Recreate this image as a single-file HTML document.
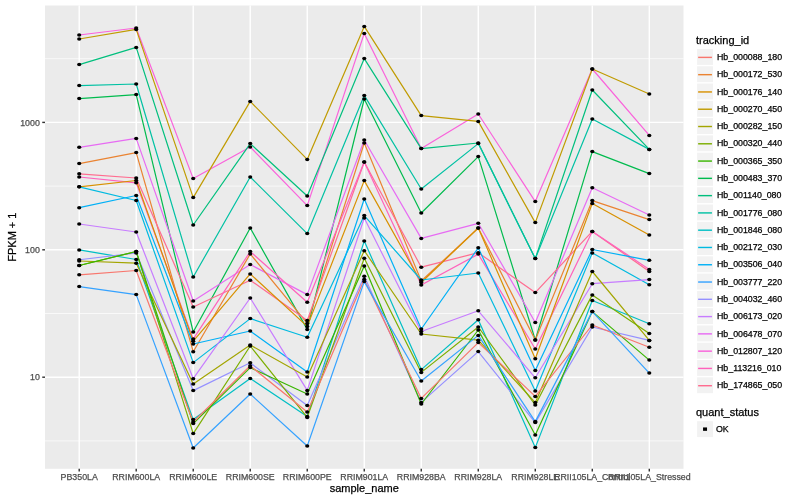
<!DOCTYPE html><html><head><meta charset="utf-8"><style>html,body{margin:0;padding:0;background:#fff;}svg{display:block;will-change:transform;}text{font-family:"Liberation Sans",sans-serif;stroke:currentColor;stroke-width:0.25px;}</style></head><body>
<svg width="800" height="500" viewBox="0 0 800 500">
<rect x="0" y="0" width="800" height="500" fill="#FFFFFF"/>
<rect x="45.0" y="5.5" width="638.50" height="463.30" fill="#EBEBEB"/>
<line x1="45.0" x2="683.5" y1="440.90" y2="440.90" stroke="#FFFFFF" stroke-width="0.71"/>
<line x1="45.0" x2="683.5" y1="313.50" y2="313.50" stroke="#FFFFFF" stroke-width="0.71"/>
<line x1="45.0" x2="683.5" y1="186.10" y2="186.10" stroke="#FFFFFF" stroke-width="0.71"/>
<line x1="45.0" x2="683.5" y1="58.70" y2="58.70" stroke="#FFFFFF" stroke-width="0.71"/>
<line x1="45.0" x2="683.5" y1="377.20" y2="377.20" stroke="#FFFFFF" stroke-width="1.42"/>
<line x1="45.0" x2="683.5" y1="249.80" y2="249.80" stroke="#FFFFFF" stroke-width="1.42"/>
<line x1="45.0" x2="683.5" y1="122.40" y2="122.40" stroke="#FFFFFF" stroke-width="1.42"/>
<line x1="79.21" x2="79.21" y1="5.5" y2="468.8" stroke="#FFFFFF" stroke-width="1.42"/>
<line x1="136.21" x2="136.21" y1="5.5" y2="468.8" stroke="#FFFFFF" stroke-width="1.42"/>
<line x1="193.22" x2="193.22" y1="5.5" y2="468.8" stroke="#FFFFFF" stroke-width="1.42"/>
<line x1="250.23" x2="250.23" y1="5.5" y2="468.8" stroke="#FFFFFF" stroke-width="1.42"/>
<line x1="307.24" x2="307.24" y1="5.5" y2="468.8" stroke="#FFFFFF" stroke-width="1.42"/>
<line x1="364.25" x2="364.25" y1="5.5" y2="468.8" stroke="#FFFFFF" stroke-width="1.42"/>
<line x1="421.26" x2="421.26" y1="5.5" y2="468.8" stroke="#FFFFFF" stroke-width="1.42"/>
<line x1="478.27" x2="478.27" y1="5.5" y2="468.8" stroke="#FFFFFF" stroke-width="1.42"/>
<line x1="535.28" x2="535.28" y1="5.5" y2="468.8" stroke="#FFFFFF" stroke-width="1.42"/>
<line x1="592.29" x2="592.29" y1="5.5" y2="468.8" stroke="#FFFFFF" stroke-width="1.42"/>
<line x1="649.29" x2="649.29" y1="5.5" y2="468.8" stroke="#FFFFFF" stroke-width="1.42"/>
<polyline points="79.21,35.00 136.21,28.00 193.22,178.60 250.23,147.00 307.24,205.60 364.25,33.40 421.26,148.60 478.27,114.00 535.28,201.60 592.29,69.00 649.29,135.40" fill="none" stroke="#FA62DB" stroke-width="1.2" stroke-linejoin="round" stroke-linecap="butt"/>
<polyline points="79.21,39.00 136.21,29.40 193.22,197.60 250.23,101.40 307.24,159.40 364.25,26.40 421.26,115.60 478.27,121.40 535.28,222.60 592.29,69.00 649.29,94.00" fill="none" stroke="#C09B00" stroke-width="1.2" stroke-linejoin="round" stroke-linecap="butt"/>
<polyline points="79.21,64.60 136.21,47.40 193.22,225.00 250.23,143.60 307.24,196.00 364.25,58.60 421.26,148.60 478.27,143.00 535.28,258.60 592.29,90.00 649.29,149.40" fill="none" stroke="#00BF7D" stroke-width="1.2" stroke-linejoin="round" stroke-linecap="butt"/>
<polyline points="79.21,85.60 136.21,84.00 193.22,277.00 250.23,177.00 307.24,233.60 364.25,95.40 421.26,189.00 478.27,143.60 535.28,258.60 592.29,119.00 649.29,149.40" fill="none" stroke="#00C1A3" stroke-width="1.2" stroke-linejoin="round" stroke-linecap="butt"/>
<polyline points="79.21,98.60 136.21,94.60 193.22,332.00 250.23,228.00 307.24,329.40 364.25,99.00 421.26,213.00 478.27,156.60 535.28,340.00 592.29,151.60 649.29,173.60" fill="none" stroke="#00BB4E" stroke-width="1.2" stroke-linejoin="round" stroke-linecap="butt"/>
<polyline points="79.21,147.30 136.21,138.40 193.22,301.00 250.23,264.50 307.24,294.60 364.25,140.00 421.26,238.40 478.27,223.30 535.28,322.50 592.29,187.80 649.29,215.00" fill="none" stroke="#E76BF3" stroke-width="1.2" stroke-linejoin="round" stroke-linecap="butt"/>
<polyline points="79.21,163.60 136.21,152.60 193.22,351.70 250.23,253.90 307.24,323.40 364.25,143.00 421.26,281.00 478.27,228.00 535.28,340.00 592.29,200.60 649.29,219.60" fill="none" stroke="#EA8331" stroke-width="1.2" stroke-linejoin="round" stroke-linecap="butt"/>
<polyline points="79.21,173.80 136.21,178.00 193.22,307.00 250.23,280.20 307.24,320.40 364.25,162.00 421.26,267.20 478.27,252.70 535.28,292.60 592.29,231.40 649.29,271.50" fill="none" stroke="#FF6C90" stroke-width="1.2" stroke-linejoin="round" stroke-linecap="butt"/>
<polyline points="79.21,177.00 136.21,182.80 193.22,339.10 250.23,251.50 307.24,302.20 364.25,162.00 421.26,285.00 478.27,254.10 535.28,349.00 592.29,231.40 649.29,269.40" fill="none" stroke="#FF62BC" stroke-width="1.2" stroke-linejoin="round" stroke-linecap="butt"/>
<polyline points="79.21,186.80 136.21,180.50 193.22,341.20 250.23,273.90 307.24,326.40 364.25,180.60 421.26,282.50 478.27,228.00 535.28,358.80 592.29,203.40 649.29,235.00" fill="none" stroke="#D89000" stroke-width="1.2" stroke-linejoin="round" stroke-linecap="butt"/>
<polyline points="79.21,186.80 136.21,200.50 193.22,362.60 250.23,318.60 307.24,337.20 364.25,215.60 421.26,280.00 478.27,273.00 535.28,391.00 592.29,252.90 649.29,284.80" fill="none" stroke="#00BAE0" stroke-width="1.2" stroke-linejoin="round" stroke-linecap="butt"/>
<polyline points="79.21,207.70 136.21,195.50 193.22,344.00 250.23,331.00 307.24,372.00 364.25,199.00 421.26,329.00 478.27,247.80 535.28,370.40 592.29,249.50 649.29,260.30" fill="none" stroke="#00B0F6" stroke-width="1.2" stroke-linejoin="round" stroke-linecap="butt"/>
<polyline points="79.21,224.00 136.21,232.00 193.22,378.70 250.23,298.00 307.24,390.40 364.25,218.00 421.26,331.50 478.27,310.80 535.28,377.80 592.29,283.70 649.29,279.60" fill="none" stroke="#C77CFF" stroke-width="1.2" stroke-linejoin="round" stroke-linecap="butt"/>
<polyline points="79.21,249.90 136.21,259.50 193.22,419.60 250.23,378.40 307.24,416.40 364.25,241.10 421.26,369.60 478.27,319.80 535.28,447.60 592.29,300.50 649.29,323.80" fill="none" stroke="#00BFC4" stroke-width="1.2" stroke-linejoin="round" stroke-linecap="butt"/>
<polyline points="79.21,259.75 136.21,253.00 193.22,390.60 250.23,362.80 307.24,405.60 364.25,276.20 421.26,402.40 478.27,351.60 535.28,422.60 592.29,327.00 649.29,340.40" fill="none" stroke="#9590FF" stroke-width="1.2" stroke-linejoin="round" stroke-linecap="butt"/>
<polyline points="79.21,261.00 136.21,263.20 193.22,383.90 250.23,345.00 307.24,377.00 364.25,250.70 421.26,334.00 478.27,340.20 535.28,402.60 592.29,271.50 649.29,340.40" fill="none" stroke="#A3A500" stroke-width="1.2" stroke-linejoin="round" stroke-linecap="butt"/>
<polyline points="79.21,265.50 136.21,251.50 193.22,433.60 250.23,346.00 307.24,417.40 364.25,258.20 421.26,372.40 478.27,327.00 535.28,405.00 592.29,294.90 649.29,333.50" fill="none" stroke="#7CAE00" stroke-width="1.2" stroke-linejoin="round" stroke-linecap="butt"/>
<polyline points="79.21,265.50 136.21,251.50 193.22,423.60 250.23,367.60 307.24,394.00 364.25,266.10 421.26,404.00 478.27,330.00 535.28,435.00 592.29,311.60 649.29,360.10" fill="none" stroke="#39B600" stroke-width="1.2" stroke-linejoin="round" stroke-linecap="butt"/>
<polyline points="79.21,274.80 136.21,270.50 193.22,422.00 250.23,365.80 307.24,412.00 364.25,279.40 421.26,398.40 478.27,342.60 535.28,396.40 592.29,325.00 649.29,347.20" fill="none" stroke="#F8766D" stroke-width="1.2" stroke-linejoin="round" stroke-linecap="butt"/>
<polyline points="79.21,286.60 136.21,294.60 193.22,448.00 250.23,394.00 307.24,446.00 364.25,281.60 421.26,381.00 478.27,335.40 535.28,421.60 592.29,311.60 649.29,373.10" fill="none" stroke="#35A2FF" stroke-width="1.2" stroke-linejoin="round" stroke-linecap="butt"/>
<ellipse cx="79.21" cy="35.00" rx="2.1" ry="1.75" fill="#000"/>
<ellipse cx="136.21" cy="28.00" rx="2.1" ry="1.75" fill="#000"/>
<ellipse cx="193.22" cy="178.60" rx="2.1" ry="1.75" fill="#000"/>
<ellipse cx="250.23" cy="147.00" rx="2.1" ry="1.75" fill="#000"/>
<ellipse cx="307.24" cy="205.60" rx="2.1" ry="1.75" fill="#000"/>
<ellipse cx="364.25" cy="33.40" rx="2.1" ry="1.75" fill="#000"/>
<ellipse cx="421.26" cy="148.60" rx="2.1" ry="1.75" fill="#000"/>
<ellipse cx="478.27" cy="114.00" rx="2.1" ry="1.75" fill="#000"/>
<ellipse cx="535.28" cy="201.60" rx="2.1" ry="1.75" fill="#000"/>
<ellipse cx="592.29" cy="69.00" rx="2.1" ry="1.75" fill="#000"/>
<ellipse cx="649.29" cy="135.40" rx="2.1" ry="1.75" fill="#000"/>
<ellipse cx="79.21" cy="39.00" rx="2.1" ry="1.75" fill="#000"/>
<ellipse cx="136.21" cy="29.40" rx="2.1" ry="1.75" fill="#000"/>
<ellipse cx="193.22" cy="197.60" rx="2.1" ry="1.75" fill="#000"/>
<ellipse cx="250.23" cy="101.40" rx="2.1" ry="1.75" fill="#000"/>
<ellipse cx="307.24" cy="159.40" rx="2.1" ry="1.75" fill="#000"/>
<ellipse cx="364.25" cy="26.40" rx="2.1" ry="1.75" fill="#000"/>
<ellipse cx="421.26" cy="115.60" rx="2.1" ry="1.75" fill="#000"/>
<ellipse cx="478.27" cy="121.40" rx="2.1" ry="1.75" fill="#000"/>
<ellipse cx="535.28" cy="222.60" rx="2.1" ry="1.75" fill="#000"/>
<ellipse cx="592.29" cy="69.00" rx="2.1" ry="1.75" fill="#000"/>
<ellipse cx="649.29" cy="94.00" rx="2.1" ry="1.75" fill="#000"/>
<ellipse cx="79.21" cy="64.60" rx="2.1" ry="1.75" fill="#000"/>
<ellipse cx="136.21" cy="47.40" rx="2.1" ry="1.75" fill="#000"/>
<ellipse cx="193.22" cy="225.00" rx="2.1" ry="1.75" fill="#000"/>
<ellipse cx="250.23" cy="143.60" rx="2.1" ry="1.75" fill="#000"/>
<ellipse cx="307.24" cy="196.00" rx="2.1" ry="1.75" fill="#000"/>
<ellipse cx="364.25" cy="58.60" rx="2.1" ry="1.75" fill="#000"/>
<ellipse cx="421.26" cy="148.60" rx="2.1" ry="1.75" fill="#000"/>
<ellipse cx="478.27" cy="143.00" rx="2.1" ry="1.75" fill="#000"/>
<ellipse cx="535.28" cy="258.60" rx="2.1" ry="1.75" fill="#000"/>
<ellipse cx="592.29" cy="90.00" rx="2.1" ry="1.75" fill="#000"/>
<ellipse cx="649.29" cy="149.40" rx="2.1" ry="1.75" fill="#000"/>
<ellipse cx="79.21" cy="85.60" rx="2.1" ry="1.75" fill="#000"/>
<ellipse cx="136.21" cy="84.00" rx="2.1" ry="1.75" fill="#000"/>
<ellipse cx="193.22" cy="277.00" rx="2.1" ry="1.75" fill="#000"/>
<ellipse cx="250.23" cy="177.00" rx="2.1" ry="1.75" fill="#000"/>
<ellipse cx="307.24" cy="233.60" rx="2.1" ry="1.75" fill="#000"/>
<ellipse cx="364.25" cy="95.40" rx="2.1" ry="1.75" fill="#000"/>
<ellipse cx="421.26" cy="189.00" rx="2.1" ry="1.75" fill="#000"/>
<ellipse cx="478.27" cy="143.60" rx="2.1" ry="1.75" fill="#000"/>
<ellipse cx="535.28" cy="258.60" rx="2.1" ry="1.75" fill="#000"/>
<ellipse cx="592.29" cy="119.00" rx="2.1" ry="1.75" fill="#000"/>
<ellipse cx="649.29" cy="149.40" rx="2.1" ry="1.75" fill="#000"/>
<ellipse cx="79.21" cy="98.60" rx="2.1" ry="1.75" fill="#000"/>
<ellipse cx="136.21" cy="94.60" rx="2.1" ry="1.75" fill="#000"/>
<ellipse cx="193.22" cy="332.00" rx="2.1" ry="1.75" fill="#000"/>
<ellipse cx="250.23" cy="228.00" rx="2.1" ry="1.75" fill="#000"/>
<ellipse cx="307.24" cy="329.40" rx="2.1" ry="1.75" fill="#000"/>
<ellipse cx="364.25" cy="99.00" rx="2.1" ry="1.75" fill="#000"/>
<ellipse cx="421.26" cy="213.00" rx="2.1" ry="1.75" fill="#000"/>
<ellipse cx="478.27" cy="156.60" rx="2.1" ry="1.75" fill="#000"/>
<ellipse cx="535.28" cy="340.00" rx="2.1" ry="1.75" fill="#000"/>
<ellipse cx="592.29" cy="151.60" rx="2.1" ry="1.75" fill="#000"/>
<ellipse cx="649.29" cy="173.60" rx="2.1" ry="1.75" fill="#000"/>
<ellipse cx="79.21" cy="147.30" rx="2.1" ry="1.75" fill="#000"/>
<ellipse cx="136.21" cy="138.40" rx="2.1" ry="1.75" fill="#000"/>
<ellipse cx="193.22" cy="301.00" rx="2.1" ry="1.75" fill="#000"/>
<ellipse cx="250.23" cy="264.50" rx="2.1" ry="1.75" fill="#000"/>
<ellipse cx="307.24" cy="294.60" rx="2.1" ry="1.75" fill="#000"/>
<ellipse cx="364.25" cy="140.00" rx="2.1" ry="1.75" fill="#000"/>
<ellipse cx="421.26" cy="238.40" rx="2.1" ry="1.75" fill="#000"/>
<ellipse cx="478.27" cy="223.30" rx="2.1" ry="1.75" fill="#000"/>
<ellipse cx="535.28" cy="322.50" rx="2.1" ry="1.75" fill="#000"/>
<ellipse cx="592.29" cy="187.80" rx="2.1" ry="1.75" fill="#000"/>
<ellipse cx="649.29" cy="215.00" rx="2.1" ry="1.75" fill="#000"/>
<ellipse cx="79.21" cy="163.60" rx="2.1" ry="1.75" fill="#000"/>
<ellipse cx="136.21" cy="152.60" rx="2.1" ry="1.75" fill="#000"/>
<ellipse cx="193.22" cy="351.70" rx="2.1" ry="1.75" fill="#000"/>
<ellipse cx="250.23" cy="253.90" rx="2.1" ry="1.75" fill="#000"/>
<ellipse cx="307.24" cy="323.40" rx="2.1" ry="1.75" fill="#000"/>
<ellipse cx="364.25" cy="143.00" rx="2.1" ry="1.75" fill="#000"/>
<ellipse cx="421.26" cy="281.00" rx="2.1" ry="1.75" fill="#000"/>
<ellipse cx="478.27" cy="228.00" rx="2.1" ry="1.75" fill="#000"/>
<ellipse cx="535.28" cy="340.00" rx="2.1" ry="1.75" fill="#000"/>
<ellipse cx="592.29" cy="200.60" rx="2.1" ry="1.75" fill="#000"/>
<ellipse cx="649.29" cy="219.60" rx="2.1" ry="1.75" fill="#000"/>
<ellipse cx="79.21" cy="173.80" rx="2.1" ry="1.75" fill="#000"/>
<ellipse cx="136.21" cy="178.00" rx="2.1" ry="1.75" fill="#000"/>
<ellipse cx="193.22" cy="307.00" rx="2.1" ry="1.75" fill="#000"/>
<ellipse cx="250.23" cy="280.20" rx="2.1" ry="1.75" fill="#000"/>
<ellipse cx="307.24" cy="320.40" rx="2.1" ry="1.75" fill="#000"/>
<ellipse cx="364.25" cy="162.00" rx="2.1" ry="1.75" fill="#000"/>
<ellipse cx="421.26" cy="267.20" rx="2.1" ry="1.75" fill="#000"/>
<ellipse cx="478.27" cy="252.70" rx="2.1" ry="1.75" fill="#000"/>
<ellipse cx="535.28" cy="292.60" rx="2.1" ry="1.75" fill="#000"/>
<ellipse cx="592.29" cy="231.40" rx="2.1" ry="1.75" fill="#000"/>
<ellipse cx="649.29" cy="271.50" rx="2.1" ry="1.75" fill="#000"/>
<ellipse cx="79.21" cy="177.00" rx="2.1" ry="1.75" fill="#000"/>
<ellipse cx="136.21" cy="182.80" rx="2.1" ry="1.75" fill="#000"/>
<ellipse cx="193.22" cy="339.10" rx="2.1" ry="1.75" fill="#000"/>
<ellipse cx="250.23" cy="251.50" rx="2.1" ry="1.75" fill="#000"/>
<ellipse cx="307.24" cy="302.20" rx="2.1" ry="1.75" fill="#000"/>
<ellipse cx="364.25" cy="162.00" rx="2.1" ry="1.75" fill="#000"/>
<ellipse cx="421.26" cy="285.00" rx="2.1" ry="1.75" fill="#000"/>
<ellipse cx="478.27" cy="254.10" rx="2.1" ry="1.75" fill="#000"/>
<ellipse cx="535.28" cy="349.00" rx="2.1" ry="1.75" fill="#000"/>
<ellipse cx="592.29" cy="231.40" rx="2.1" ry="1.75" fill="#000"/>
<ellipse cx="649.29" cy="269.40" rx="2.1" ry="1.75" fill="#000"/>
<ellipse cx="79.21" cy="186.80" rx="2.1" ry="1.75" fill="#000"/>
<ellipse cx="136.21" cy="180.50" rx="2.1" ry="1.75" fill="#000"/>
<ellipse cx="193.22" cy="341.20" rx="2.1" ry="1.75" fill="#000"/>
<ellipse cx="250.23" cy="273.90" rx="2.1" ry="1.75" fill="#000"/>
<ellipse cx="307.24" cy="326.40" rx="2.1" ry="1.75" fill="#000"/>
<ellipse cx="364.25" cy="180.60" rx="2.1" ry="1.75" fill="#000"/>
<ellipse cx="421.26" cy="282.50" rx="2.1" ry="1.75" fill="#000"/>
<ellipse cx="478.27" cy="228.00" rx="2.1" ry="1.75" fill="#000"/>
<ellipse cx="535.28" cy="358.80" rx="2.1" ry="1.75" fill="#000"/>
<ellipse cx="592.29" cy="203.40" rx="2.1" ry="1.75" fill="#000"/>
<ellipse cx="649.29" cy="235.00" rx="2.1" ry="1.75" fill="#000"/>
<ellipse cx="79.21" cy="186.80" rx="2.1" ry="1.75" fill="#000"/>
<ellipse cx="136.21" cy="200.50" rx="2.1" ry="1.75" fill="#000"/>
<ellipse cx="193.22" cy="362.60" rx="2.1" ry="1.75" fill="#000"/>
<ellipse cx="250.23" cy="318.60" rx="2.1" ry="1.75" fill="#000"/>
<ellipse cx="307.24" cy="337.20" rx="2.1" ry="1.75" fill="#000"/>
<ellipse cx="364.25" cy="215.60" rx="2.1" ry="1.75" fill="#000"/>
<ellipse cx="421.26" cy="280.00" rx="2.1" ry="1.75" fill="#000"/>
<ellipse cx="478.27" cy="273.00" rx="2.1" ry="1.75" fill="#000"/>
<ellipse cx="535.28" cy="391.00" rx="2.1" ry="1.75" fill="#000"/>
<ellipse cx="592.29" cy="252.90" rx="2.1" ry="1.75" fill="#000"/>
<ellipse cx="649.29" cy="284.80" rx="2.1" ry="1.75" fill="#000"/>
<ellipse cx="79.21" cy="207.70" rx="2.1" ry="1.75" fill="#000"/>
<ellipse cx="136.21" cy="195.50" rx="2.1" ry="1.75" fill="#000"/>
<ellipse cx="193.22" cy="344.00" rx="2.1" ry="1.75" fill="#000"/>
<ellipse cx="250.23" cy="331.00" rx="2.1" ry="1.75" fill="#000"/>
<ellipse cx="307.24" cy="372.00" rx="2.1" ry="1.75" fill="#000"/>
<ellipse cx="364.25" cy="199.00" rx="2.1" ry="1.75" fill="#000"/>
<ellipse cx="421.26" cy="329.00" rx="2.1" ry="1.75" fill="#000"/>
<ellipse cx="478.27" cy="247.80" rx="2.1" ry="1.75" fill="#000"/>
<ellipse cx="535.28" cy="370.40" rx="2.1" ry="1.75" fill="#000"/>
<ellipse cx="592.29" cy="249.50" rx="2.1" ry="1.75" fill="#000"/>
<ellipse cx="649.29" cy="260.30" rx="2.1" ry="1.75" fill="#000"/>
<ellipse cx="79.21" cy="224.00" rx="2.1" ry="1.75" fill="#000"/>
<ellipse cx="136.21" cy="232.00" rx="2.1" ry="1.75" fill="#000"/>
<ellipse cx="193.22" cy="378.70" rx="2.1" ry="1.75" fill="#000"/>
<ellipse cx="250.23" cy="298.00" rx="2.1" ry="1.75" fill="#000"/>
<ellipse cx="307.24" cy="390.40" rx="2.1" ry="1.75" fill="#000"/>
<ellipse cx="364.25" cy="218.00" rx="2.1" ry="1.75" fill="#000"/>
<ellipse cx="421.26" cy="331.50" rx="2.1" ry="1.75" fill="#000"/>
<ellipse cx="478.27" cy="310.80" rx="2.1" ry="1.75" fill="#000"/>
<ellipse cx="535.28" cy="377.80" rx="2.1" ry="1.75" fill="#000"/>
<ellipse cx="592.29" cy="283.70" rx="2.1" ry="1.75" fill="#000"/>
<ellipse cx="649.29" cy="279.60" rx="2.1" ry="1.75" fill="#000"/>
<ellipse cx="79.21" cy="249.90" rx="2.1" ry="1.75" fill="#000"/>
<ellipse cx="136.21" cy="259.50" rx="2.1" ry="1.75" fill="#000"/>
<ellipse cx="193.22" cy="419.60" rx="2.1" ry="1.75" fill="#000"/>
<ellipse cx="250.23" cy="378.40" rx="2.1" ry="1.75" fill="#000"/>
<ellipse cx="307.24" cy="416.40" rx="2.1" ry="1.75" fill="#000"/>
<ellipse cx="364.25" cy="241.10" rx="2.1" ry="1.75" fill="#000"/>
<ellipse cx="421.26" cy="369.60" rx="2.1" ry="1.75" fill="#000"/>
<ellipse cx="478.27" cy="319.80" rx="2.1" ry="1.75" fill="#000"/>
<ellipse cx="535.28" cy="447.60" rx="2.1" ry="1.75" fill="#000"/>
<ellipse cx="592.29" cy="300.50" rx="2.1" ry="1.75" fill="#000"/>
<ellipse cx="649.29" cy="323.80" rx="2.1" ry="1.75" fill="#000"/>
<ellipse cx="79.21" cy="259.75" rx="2.1" ry="1.75" fill="#000"/>
<ellipse cx="136.21" cy="253.00" rx="2.1" ry="1.75" fill="#000"/>
<ellipse cx="193.22" cy="390.60" rx="2.1" ry="1.75" fill="#000"/>
<ellipse cx="250.23" cy="362.80" rx="2.1" ry="1.75" fill="#000"/>
<ellipse cx="307.24" cy="405.60" rx="2.1" ry="1.75" fill="#000"/>
<ellipse cx="364.25" cy="276.20" rx="2.1" ry="1.75" fill="#000"/>
<ellipse cx="421.26" cy="402.40" rx="2.1" ry="1.75" fill="#000"/>
<ellipse cx="478.27" cy="351.60" rx="2.1" ry="1.75" fill="#000"/>
<ellipse cx="535.28" cy="422.60" rx="2.1" ry="1.75" fill="#000"/>
<ellipse cx="592.29" cy="327.00" rx="2.1" ry="1.75" fill="#000"/>
<ellipse cx="649.29" cy="340.40" rx="2.1" ry="1.75" fill="#000"/>
<ellipse cx="79.21" cy="261.00" rx="2.1" ry="1.75" fill="#000"/>
<ellipse cx="136.21" cy="263.20" rx="2.1" ry="1.75" fill="#000"/>
<ellipse cx="193.22" cy="383.90" rx="2.1" ry="1.75" fill="#000"/>
<ellipse cx="250.23" cy="345.00" rx="2.1" ry="1.75" fill="#000"/>
<ellipse cx="307.24" cy="377.00" rx="2.1" ry="1.75" fill="#000"/>
<ellipse cx="364.25" cy="250.70" rx="2.1" ry="1.75" fill="#000"/>
<ellipse cx="421.26" cy="334.00" rx="2.1" ry="1.75" fill="#000"/>
<ellipse cx="478.27" cy="340.20" rx="2.1" ry="1.75" fill="#000"/>
<ellipse cx="535.28" cy="402.60" rx="2.1" ry="1.75" fill="#000"/>
<ellipse cx="592.29" cy="271.50" rx="2.1" ry="1.75" fill="#000"/>
<ellipse cx="649.29" cy="340.40" rx="2.1" ry="1.75" fill="#000"/>
<ellipse cx="79.21" cy="265.50" rx="2.1" ry="1.75" fill="#000"/>
<ellipse cx="136.21" cy="251.50" rx="2.1" ry="1.75" fill="#000"/>
<ellipse cx="193.22" cy="433.60" rx="2.1" ry="1.75" fill="#000"/>
<ellipse cx="250.23" cy="346.00" rx="2.1" ry="1.75" fill="#000"/>
<ellipse cx="307.24" cy="417.40" rx="2.1" ry="1.75" fill="#000"/>
<ellipse cx="364.25" cy="258.20" rx="2.1" ry="1.75" fill="#000"/>
<ellipse cx="421.26" cy="372.40" rx="2.1" ry="1.75" fill="#000"/>
<ellipse cx="478.27" cy="327.00" rx="2.1" ry="1.75" fill="#000"/>
<ellipse cx="535.28" cy="405.00" rx="2.1" ry="1.75" fill="#000"/>
<ellipse cx="592.29" cy="294.90" rx="2.1" ry="1.75" fill="#000"/>
<ellipse cx="649.29" cy="333.50" rx="2.1" ry="1.75" fill="#000"/>
<ellipse cx="79.21" cy="265.50" rx="2.1" ry="1.75" fill="#000"/>
<ellipse cx="136.21" cy="251.50" rx="2.1" ry="1.75" fill="#000"/>
<ellipse cx="193.22" cy="423.60" rx="2.1" ry="1.75" fill="#000"/>
<ellipse cx="250.23" cy="367.60" rx="2.1" ry="1.75" fill="#000"/>
<ellipse cx="307.24" cy="394.00" rx="2.1" ry="1.75" fill="#000"/>
<ellipse cx="364.25" cy="266.10" rx="2.1" ry="1.75" fill="#000"/>
<ellipse cx="421.26" cy="404.00" rx="2.1" ry="1.75" fill="#000"/>
<ellipse cx="478.27" cy="330.00" rx="2.1" ry="1.75" fill="#000"/>
<ellipse cx="535.28" cy="435.00" rx="2.1" ry="1.75" fill="#000"/>
<ellipse cx="592.29" cy="311.60" rx="2.1" ry="1.75" fill="#000"/>
<ellipse cx="649.29" cy="360.10" rx="2.1" ry="1.75" fill="#000"/>
<ellipse cx="79.21" cy="274.80" rx="2.1" ry="1.75" fill="#000"/>
<ellipse cx="136.21" cy="270.50" rx="2.1" ry="1.75" fill="#000"/>
<ellipse cx="193.22" cy="422.00" rx="2.1" ry="1.75" fill="#000"/>
<ellipse cx="250.23" cy="365.80" rx="2.1" ry="1.75" fill="#000"/>
<ellipse cx="307.24" cy="412.00" rx="2.1" ry="1.75" fill="#000"/>
<ellipse cx="364.25" cy="279.40" rx="2.1" ry="1.75" fill="#000"/>
<ellipse cx="421.26" cy="398.40" rx="2.1" ry="1.75" fill="#000"/>
<ellipse cx="478.27" cy="342.60" rx="2.1" ry="1.75" fill="#000"/>
<ellipse cx="535.28" cy="396.40" rx="2.1" ry="1.75" fill="#000"/>
<ellipse cx="592.29" cy="325.00" rx="2.1" ry="1.75" fill="#000"/>
<ellipse cx="649.29" cy="347.20" rx="2.1" ry="1.75" fill="#000"/>
<ellipse cx="79.21" cy="286.60" rx="2.1" ry="1.75" fill="#000"/>
<ellipse cx="136.21" cy="294.60" rx="2.1" ry="1.75" fill="#000"/>
<ellipse cx="193.22" cy="448.00" rx="2.1" ry="1.75" fill="#000"/>
<ellipse cx="250.23" cy="394.00" rx="2.1" ry="1.75" fill="#000"/>
<ellipse cx="307.24" cy="446.00" rx="2.1" ry="1.75" fill="#000"/>
<ellipse cx="364.25" cy="281.60" rx="2.1" ry="1.75" fill="#000"/>
<ellipse cx="421.26" cy="381.00" rx="2.1" ry="1.75" fill="#000"/>
<ellipse cx="478.27" cy="335.40" rx="2.1" ry="1.75" fill="#000"/>
<ellipse cx="535.28" cy="421.60" rx="2.1" ry="1.75" fill="#000"/>
<ellipse cx="592.29" cy="311.60" rx="2.1" ry="1.75" fill="#000"/>
<ellipse cx="649.29" cy="373.10" rx="2.1" ry="1.75" fill="#000"/>
<line x1="42.26" x2="45.0" y1="377.20" y2="377.20" stroke="#333333" stroke-width="1.42"/>
<line x1="42.26" x2="45.0" y1="249.80" y2="249.80" stroke="#333333" stroke-width="1.42"/>
<line x1="42.26" x2="45.0" y1="122.40" y2="122.40" stroke="#333333" stroke-width="1.42"/>
<line x1="79.21" x2="79.21" y1="468.8" y2="471.54" stroke="#333333" stroke-width="1.42"/>
<line x1="136.21" x2="136.21" y1="468.8" y2="471.54" stroke="#333333" stroke-width="1.42"/>
<line x1="193.22" x2="193.22" y1="468.8" y2="471.54" stroke="#333333" stroke-width="1.42"/>
<line x1="250.23" x2="250.23" y1="468.8" y2="471.54" stroke="#333333" stroke-width="1.42"/>
<line x1="307.24" x2="307.24" y1="468.8" y2="471.54" stroke="#333333" stroke-width="1.42"/>
<line x1="364.25" x2="364.25" y1="468.8" y2="471.54" stroke="#333333" stroke-width="1.42"/>
<line x1="421.26" x2="421.26" y1="468.8" y2="471.54" stroke="#333333" stroke-width="1.42"/>
<line x1="478.27" x2="478.27" y1="468.8" y2="471.54" stroke="#333333" stroke-width="1.42"/>
<line x1="535.28" x2="535.28" y1="468.8" y2="471.54" stroke="#333333" stroke-width="1.42"/>
<line x1="592.29" x2="592.29" y1="468.8" y2="471.54" stroke="#333333" stroke-width="1.42"/>
<line x1="649.29" x2="649.29" y1="468.8" y2="471.54" stroke="#333333" stroke-width="1.42"/>
<text x="39.8" y="380.35" font-size="8.8" fill="#4D4D4D" color="#4D4D4D" text-anchor="end">10</text>
<text x="39.8" y="252.95" font-size="8.8" fill="#4D4D4D" color="#4D4D4D" text-anchor="end">100</text>
<text x="39.8" y="125.55" font-size="8.8" fill="#4D4D4D" color="#4D4D4D" text-anchor="end">1000</text>
<text x="79.21" y="480.3" font-size="8.8" fill="#4D4D4D" color="#4D4D4D" text-anchor="middle">PB350LA</text>
<text x="136.21" y="480.3" font-size="8.8" fill="#4D4D4D" color="#4D4D4D" text-anchor="middle">RRIM600LA</text>
<text x="193.22" y="480.3" font-size="8.8" fill="#4D4D4D" color="#4D4D4D" text-anchor="middle">RRIM600LE</text>
<text x="250.23" y="480.3" font-size="8.8" fill="#4D4D4D" color="#4D4D4D" text-anchor="middle">RRIM600SE</text>
<text x="307.24" y="480.3" font-size="8.8" fill="#4D4D4D" color="#4D4D4D" text-anchor="middle">RRIM600PE</text>
<text x="364.25" y="480.3" font-size="8.8" fill="#4D4D4D" color="#4D4D4D" text-anchor="middle">RRIM901LA</text>
<text x="421.26" y="480.3" font-size="8.8" fill="#4D4D4D" color="#4D4D4D" text-anchor="middle">RRIM928BA</text>
<text x="478.27" y="480.3" font-size="8.8" fill="#4D4D4D" color="#4D4D4D" text-anchor="middle">RRIM928LA</text>
<text x="535.28" y="480.3" font-size="8.8" fill="#4D4D4D" color="#4D4D4D" text-anchor="middle">RRIM928LE</text>
<text x="592.29" y="480.3" font-size="8.8" fill="#4D4D4D" color="#4D4D4D" text-anchor="middle">RRII105LA_Control</text>
<text x="649.29" y="480.3" font-size="8.8" fill="#4D4D4D" color="#4D4D4D" text-anchor="middle">RRII105LA_Stressed</text>
<text x="364.25" y="491.7" font-size="11" fill="#000" text-anchor="middle">sample_name</text>
<text transform="translate(16,237.15) rotate(-90)" x="0" y="0" font-size="11" fill="#000" text-anchor="middle">FPKM + 1</text>
<text x="696" y="44.4" font-size="11" fill="#000" color="#000">tracking_id</text>
<rect x="697.10" y="49.00" width="15.88" height="15.88" fill="#F2F2F2"/>
<line x1="698.13" x2="711.95" y1="57.39" y2="57.39" stroke="#F8766D" stroke-width="1.42"/>
<text x="717" y="60.09" font-size="8.8" fill="#000" color="#000">Hb_000088_180</text>
<rect x="697.10" y="66.28" width="15.88" height="15.88" fill="#F2F2F2"/>
<line x1="698.13" x2="711.95" y1="74.67" y2="74.67" stroke="#EA8331" stroke-width="1.42"/>
<text x="717" y="77.37" font-size="8.8" fill="#000" color="#000">Hb_000172_530</text>
<rect x="697.10" y="83.56" width="15.88" height="15.88" fill="#F2F2F2"/>
<line x1="698.13" x2="711.95" y1="91.95" y2="91.95" stroke="#D89000" stroke-width="1.42"/>
<text x="717" y="94.65" font-size="8.8" fill="#000" color="#000">Hb_000176_140</text>
<rect x="697.10" y="100.84" width="15.88" height="15.88" fill="#F2F2F2"/>
<line x1="698.13" x2="711.95" y1="109.23" y2="109.23" stroke="#C09B00" stroke-width="1.42"/>
<text x="717" y="111.93" font-size="8.8" fill="#000" color="#000">Hb_000270_450</text>
<rect x="697.10" y="118.12" width="15.88" height="15.88" fill="#F2F2F2"/>
<line x1="698.13" x2="711.95" y1="126.51" y2="126.51" stroke="#A3A500" stroke-width="1.42"/>
<text x="717" y="129.21" font-size="8.8" fill="#000" color="#000">Hb_000282_150</text>
<rect x="697.10" y="135.40" width="15.88" height="15.88" fill="#F2F2F2"/>
<line x1="698.13" x2="711.95" y1="143.79" y2="143.79" stroke="#7CAE00" stroke-width="1.42"/>
<text x="717" y="146.49" font-size="8.8" fill="#000" color="#000">Hb_000320_440</text>
<rect x="697.10" y="152.68" width="15.88" height="15.88" fill="#F2F2F2"/>
<line x1="698.13" x2="711.95" y1="161.07" y2="161.07" stroke="#39B600" stroke-width="1.42"/>
<text x="717" y="163.77" font-size="8.8" fill="#000" color="#000">Hb_000365_350</text>
<rect x="697.10" y="169.96" width="15.88" height="15.88" fill="#F2F2F2"/>
<line x1="698.13" x2="711.95" y1="178.35" y2="178.35" stroke="#00BB4E" stroke-width="1.42"/>
<text x="717" y="181.05" font-size="8.8" fill="#000" color="#000">Hb_000483_370</text>
<rect x="697.10" y="187.24" width="15.88" height="15.88" fill="#F2F2F2"/>
<line x1="698.13" x2="711.95" y1="195.63" y2="195.63" stroke="#00BF7D" stroke-width="1.42"/>
<text x="717" y="198.33" font-size="8.8" fill="#000" color="#000">Hb_001140_080</text>
<rect x="697.10" y="204.52" width="15.88" height="15.88" fill="#F2F2F2"/>
<line x1="698.13" x2="711.95" y1="212.91" y2="212.91" stroke="#00C1A3" stroke-width="1.42"/>
<text x="717" y="215.61" font-size="8.8" fill="#000" color="#000">Hb_001776_080</text>
<rect x="697.10" y="221.80" width="15.88" height="15.88" fill="#F2F2F2"/>
<line x1="698.13" x2="711.95" y1="230.19" y2="230.19" stroke="#00BFC4" stroke-width="1.42"/>
<text x="717" y="232.89" font-size="8.8" fill="#000" color="#000">Hb_001846_080</text>
<rect x="697.10" y="239.08" width="15.88" height="15.88" fill="#F2F2F2"/>
<line x1="698.13" x2="711.95" y1="247.47" y2="247.47" stroke="#00BAE0" stroke-width="1.42"/>
<text x="717" y="250.17" font-size="8.8" fill="#000" color="#000">Hb_002172_030</text>
<rect x="697.10" y="256.36" width="15.88" height="15.88" fill="#F2F2F2"/>
<line x1="698.13" x2="711.95" y1="264.75" y2="264.75" stroke="#00B0F6" stroke-width="1.42"/>
<text x="717" y="267.45" font-size="8.8" fill="#000" color="#000">Hb_003506_040</text>
<rect x="697.10" y="273.64" width="15.88" height="15.88" fill="#F2F2F2"/>
<line x1="698.13" x2="711.95" y1="282.03" y2="282.03" stroke="#35A2FF" stroke-width="1.42"/>
<text x="717" y="284.73" font-size="8.8" fill="#000" color="#000">Hb_003777_220</text>
<rect x="697.10" y="290.92" width="15.88" height="15.88" fill="#F2F2F2"/>
<line x1="698.13" x2="711.95" y1="299.31" y2="299.31" stroke="#9590FF" stroke-width="1.42"/>
<text x="717" y="302.01" font-size="8.8" fill="#000" color="#000">Hb_004032_460</text>
<rect x="697.10" y="308.20" width="15.88" height="15.88" fill="#F2F2F2"/>
<line x1="698.13" x2="711.95" y1="316.59" y2="316.59" stroke="#C77CFF" stroke-width="1.42"/>
<text x="717" y="319.29" font-size="8.8" fill="#000" color="#000">Hb_006173_020</text>
<rect x="697.10" y="325.48" width="15.88" height="15.88" fill="#F2F2F2"/>
<line x1="698.13" x2="711.95" y1="333.87" y2="333.87" stroke="#E76BF3" stroke-width="1.42"/>
<text x="717" y="336.57" font-size="8.8" fill="#000" color="#000">Hb_006478_070</text>
<rect x="697.10" y="342.76" width="15.88" height="15.88" fill="#F2F2F2"/>
<line x1="698.13" x2="711.95" y1="351.15" y2="351.15" stroke="#FA62DB" stroke-width="1.42"/>
<text x="717" y="353.85" font-size="8.8" fill="#000" color="#000">Hb_012807_120</text>
<rect x="697.10" y="360.04" width="15.88" height="15.88" fill="#F2F2F2"/>
<line x1="698.13" x2="711.95" y1="368.43" y2="368.43" stroke="#FF62BC" stroke-width="1.42"/>
<text x="717" y="371.13" font-size="8.8" fill="#000" color="#000">Hb_113216_010</text>
<rect x="697.10" y="377.32" width="15.88" height="15.88" fill="#F2F2F2"/>
<line x1="698.13" x2="711.95" y1="385.71" y2="385.71" stroke="#FF6C90" stroke-width="1.42"/>
<text x="717" y="388.41" font-size="8.8" fill="#000" color="#000">Hb_174865_050</text>
<text x="696" y="416" font-size="11" fill="#000" color="#000">quant_status</text>
<rect x="697.10" y="421.20" width="15.88" height="15.88" fill="#F2F2F2"/>
<rect x="703.04" y="427.44" width="4" height="3.4" fill="#000"/>
<text x="716" y="432" font-size="8.8" fill="#000" color="#000">OK</text>
</svg></body></html>
